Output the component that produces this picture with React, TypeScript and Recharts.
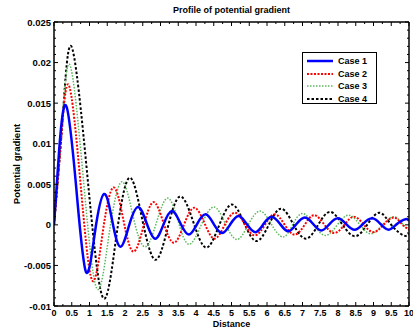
import { LineChart, Line, XAxis, YAxis } from "recharts";

// values: [distance, gradient]
const case1 = [
  [0, 0], [0.15, 0.0095], [0.35, 0.0146], [0.63, 0.0044], [0.9, -0.0058], [1.15, -0.001],
  [1.41, 0.0038], [1.64, 0.0005], [1.87, -0.0027], [2.12, 0], [2.37, 0.0022], [2.61, 0.0002],
  [2.85, -0.0017], [3.08, 0], [3.32, 0.0017], [3.56, 0.0002], [3.8, -0.0012], [4.03, 0.0001],
  [4.27, 0.0013], [4.5, 0.0001], [4.74, -0.001], [4.97, 0.0001], [5.2, 0.0011], [5.43, 0.0001],
  [5.67, -0.0009], [5.9, 0.0001], [6.13, 0.001], [6.37, 0.0001], [6.6, -0.0008], [6.83, 0.0001],
  [7.07, 0.0009], [7.3, 0.0001], [7.53, -0.0007], [7.76, 0.0001], [8.0, 0.0008], [8.23, 0.0001],
  [8.47, -0.0006], [8.7, 0.0001], [8.96, 0.0008], [9.2, 0.0001], [9.43, -0.0006], [9.66, 0.0001],
  [9.9, 0.0007], [10, 0.0005],
];

const case2 = [
  [0, 0], [0.2, 0.0105], [0.42, 0.0172], [0.745, 0.0052], [1.07, -0.0068], [1.37, -0.001],
  [1.67, 0.0046], [1.95, 0.0007], [2.23, -0.0033], [2.52, -0.0002], [2.8, 0.0028], [3.08, 0.0003],
  [3.37, -0.0022], [3.66, 0], [3.95, 0.0021], [4.24, 0.0002], [4.52, -0.0017], [4.81, 0],
  [5.1, 0.0015], [5.38, 0], [5.66, -0.0013], [5.94, 0], [6.22, 0.0013], [6.5, 0],
  [6.78, -0.0012], [7.06, 0], [7.33, 0.0012], [7.62, 0], [7.9, -0.001], [8.18, 0],
  [8.45, 0.001], [8.73, 0], [9.0, -0.0009], [9.28, 0], [9.57, 0.0009], [9.8, 0.0001], [10, -0.0006],
];

const case3 = [
  [0, 0], [0.22, 0.012], [0.45, 0.0197], [0.82, 0.006], [1.2, -0.0078], [1.55, -0.0012],
  [1.9, 0.0053], [2.22, 0.0012], [2.55, -0.0027], [2.88, 0.0002], [3.2, 0.0033], [3.5, 0.0004],
  [3.8, -0.0024], [4.15, 0], [4.5, 0.0022], [4.82, 0.0002], [5.15, -0.0018], [5.47, 0],
  [5.8, 0.0017], [6.12, 0.0001], [6.45, -0.0015], [6.72, 0], [7.0, 0.0014], [7.32, 0],
  [7.65, -0.0013], [7.98, 0], [8.3, 0.0012], [8.62, 0], [8.93, -0.0011], [9.25, 0],
  [9.57, 0.001], [9.8, 0.0002], [10, -0.0005],
];

const case4 = [
  [0, 0], [0.25, 0.0135], [0.5, 0.0219], [0.93, 0.0065], [1.37, -0.0089], [1.75, -0.0016],
  [2.12, 0.0058], [2.48, 0.0008], [2.85, -0.0043], [3.2, -0.0004], [3.55, 0.0035], [3.92, 0.0004],
  [4.28, -0.0028], [4.64, -0.0002], [5.0, 0.0025], [5.35, 0.0003], [5.7, -0.002], [6.05, 0],
  [6.4, 0.002], [6.75, 0], [7.1, -0.0017], [7.44, 0], [7.78, 0.0016], [8.13, 0],
  [8.48, -0.0014], [8.82, 0], [9.17, 0.0015], [9.5, 0], [9.85, -0.0013], [10, -0.0011],
];

const xTicks = [
  0, 0.25, 0.5, 0.75, 1, 1.25, 1.5, 1.75, 2, 2.25, 2.5, 2.75, 3, 3.25, 3.5, 3.75, 4, 4.25, 4.5, 4.75,
  5, 5.25, 5.5, 5.75, 6, 6.25, 6.5, 6.75, 7, 7.25, 7.5, 7.75, 8, 8.25, 8.5, 8.75, 9, 9.25, 9.5, 9.75, 10,
];
const yTicks = [
  -0.01, -0.009, -0.008, -0.007, -0.006, -0.005, -0.004, -0.003, -0.002, -0.001, 0,
  0.001, 0.002, 0.003, 0.004, 0.005, 0.006, 0.007, 0.008, 0.009, 0.01,
  0.011, 0.012, 0.013, 0.014, 0.015, 0.016, 0.017, 0.018, 0.019, 0.02,
  0.021, 0.022, 0.023, 0.024, 0.025,
];

const toPoints = (pairs: number[][]) => pairs.map(([x, y]) => ({ x, y }));

// drawn back to front, blue ends up on top
const series = [
  { name: "Case 4", data: case4, color: "#000000", width: 2, dash: "2.5 2" },
  { name: "Case 3", data: case3, color: "#5cb85c", width: 1.5, dash: "1.5 1.5" },
  { name: "Case 2", data: case2, color: "#ff0000", width: 2, dash: "2 1.5" },
  { name: "Case 1", data: case1, color: "#0000ff", width: 2.5, dash: undefined },
];

const FONT = "'Liberation Sans', Arial, sans-serif";

const isMajor = (v: number, step: number) => Math.abs(v / step - Math.round(v / step)) < 1e-6;
const yLabel = (v: number) => (Math.abs(v) < 1e-9 ? "0" : String(+v.toFixed(3)));

const BottomTick = ({ x, y, payload }: any) => {
  const major = isMajor(payload.value, 0.5);
  return (
    <g>
      <line x1={x} x2={x} y1={y} y2={y - (major ? 4 : 2)} stroke="#000" strokeWidth={1} />
      {major && (
        <text x={x} y={y + 9.5} textAnchor="middle" fontSize={9} fontWeight="bold" fontFamily={FONT} fill="#000">
          {payload.value}
        </text>
      )}
    </g>
  );
};

const TopTick = ({ x, y, payload }: any) => {
  const major = isMajor(payload.value, 0.5);
  return <line x1={x} x2={x} y1={y} y2={y + (major ? 4 : 2)} stroke="#000" strokeWidth={1} />;
};

const LeftTick = ({ x, y, payload }: any) => {
  const major = isMajor(payload.value, 0.005);
  return (
    <g>
      <line x1={x} x2={x + (major ? 4 : 2)} y1={y} y2={y} stroke="#000" strokeWidth={1} />
      {major && (
        <text x={x - 3} y={y + 3.5} textAnchor="end" fontSize={9.5} fontWeight="bold" fontFamily={FONT} fill="#000">
          {yLabel(payload.value)}
        </text>
      )}
    </g>
  );
};

const RightTick = ({ x, y, payload }: any) => {
  const major = isMajor(payload.value, 0.005);
  return <line x1={x} x2={x - (major ? 4 : 2)} y1={y} y2={y} stroke="#000" strokeWidth={1} />;
};

const LegendBox = () => (
  <div
    style={{
      position: "absolute",
      left: 302,
      top: 52,
      width: 75,
      height: 52,
      border: "1.5px solid #000",
      background: "#fff",
      padding: "2px 0 0 4px",
      boxSizing: "border-box",
    }}
  >
    {[...series].reverse().map((s) => (
      <div key={s.name} style={{ display: "flex", alignItems: "center", height: 12.5 }}>
        <svg width={27} height={6} style={{ display: "block" }}>
          <line x1={0} x2={26} y1={3} y2={3} stroke={s.color} strokeWidth={s.width} strokeDasharray={s.dash} />
        </svg>
        <span style={{ fontSize: 9, fontWeight: "bold", fontFamily: FONT, marginLeft: 4, lineHeight: "12px" }}>
          {s.name}
        </span>
      </div>
    ))}
  </div>
);

const axisLine = { stroke: "#000", strokeWidth: 1.5 };

export default function App() {
  return (
    <div style={{ position: "absolute", left: 0, top: 0, width: 413, height: 329, background: "#fff", fontFamily: FONT, overflow: "hidden" }}>
      <div
        style={{
          position: "absolute",
          left: 54,
          width: 355,
          top: 4,
          textAlign: "center",
          fontSize: 9,
          fontWeight: "bold",
          lineHeight: "12px",
        }}
      >
        Profile of potential gradient
      </div>
      <div
        style={{
          position: "absolute",
          left: 54,
          width: 355,
          top: 319,
          textAlign: "center",
          fontSize: 9,
          fontWeight: "bold",
          lineHeight: "10px",
        }}
      >
        Distance
      </div>
      <div
        style={{
          position: "absolute",
          left: 17 - 60,
          top: 164 - 6,
          width: 120,
          textAlign: "center",
          fontSize: 9.5,
          fontWeight: "bold",
          lineHeight: "12px",
          transform: "rotate(-90deg)",
        }}
      >
        Potential gradient
      </div>
      <LineChart width={413} height={329} margin={{ top: 21, right: 3, bottom: 22, left: 53 }}>
        <XAxis
          xAxisId="b"
          dataKey="x"
          type="number"
          domain={[0, 10]}
          ticks={xTicks}
          interval={0}
          height={1}
          tickSize={0}
          tickMargin={0}
          tickLine={false}
          axisLine={axisLine}
          tick={<BottomTick />}
          allowDataOverflow
        />
        <XAxis
          xAxisId="t"
          orientation="top"
          dataKey="x"
          type="number"
          domain={[0, 10]}
          ticks={xTicks}
          interval={0}
          height={1}
          tickSize={0}
          tickMargin={0}
          tickLine={false}
          axisLine={axisLine}
          tick={<TopTick />}
          allowDataOverflow
        />
        <YAxis
          yAxisId="l"
          type="number"
          domain={[-0.01, 0.025]}
          ticks={yTicks}
          interval={0}
          width={1}
          tickSize={0}
          tickMargin={0}
          tickLine={false}
          axisLine={axisLine}
          tick={<LeftTick />}
          allowDataOverflow
        />
        <YAxis
          yAxisId="r"
          orientation="right"
          type="number"
          domain={[-0.01, 0.025]}
          ticks={yTicks}
          interval={0}
          width={1}
          tickSize={0}
          tickMargin={0}
          tickLine={false}
          axisLine={axisLine}
          tick={<RightTick />}
          allowDataOverflow
        />
        {series.map((s) => (
          <Line
            key={s.name}
            xAxisId="b"
            yAxisId="l"
            data={toPoints(s.data)}
            dataKey="y"
            name={s.name}
            type="natural"
            stroke={s.color}
            strokeWidth={s.width}
            strokeDasharray={s.dash}
            dot={false}
            activeDot={false}
            isAnimationActive={false}
          />
        ))}
      </LineChart>
      <LegendBox />
    </div>
  );
}
